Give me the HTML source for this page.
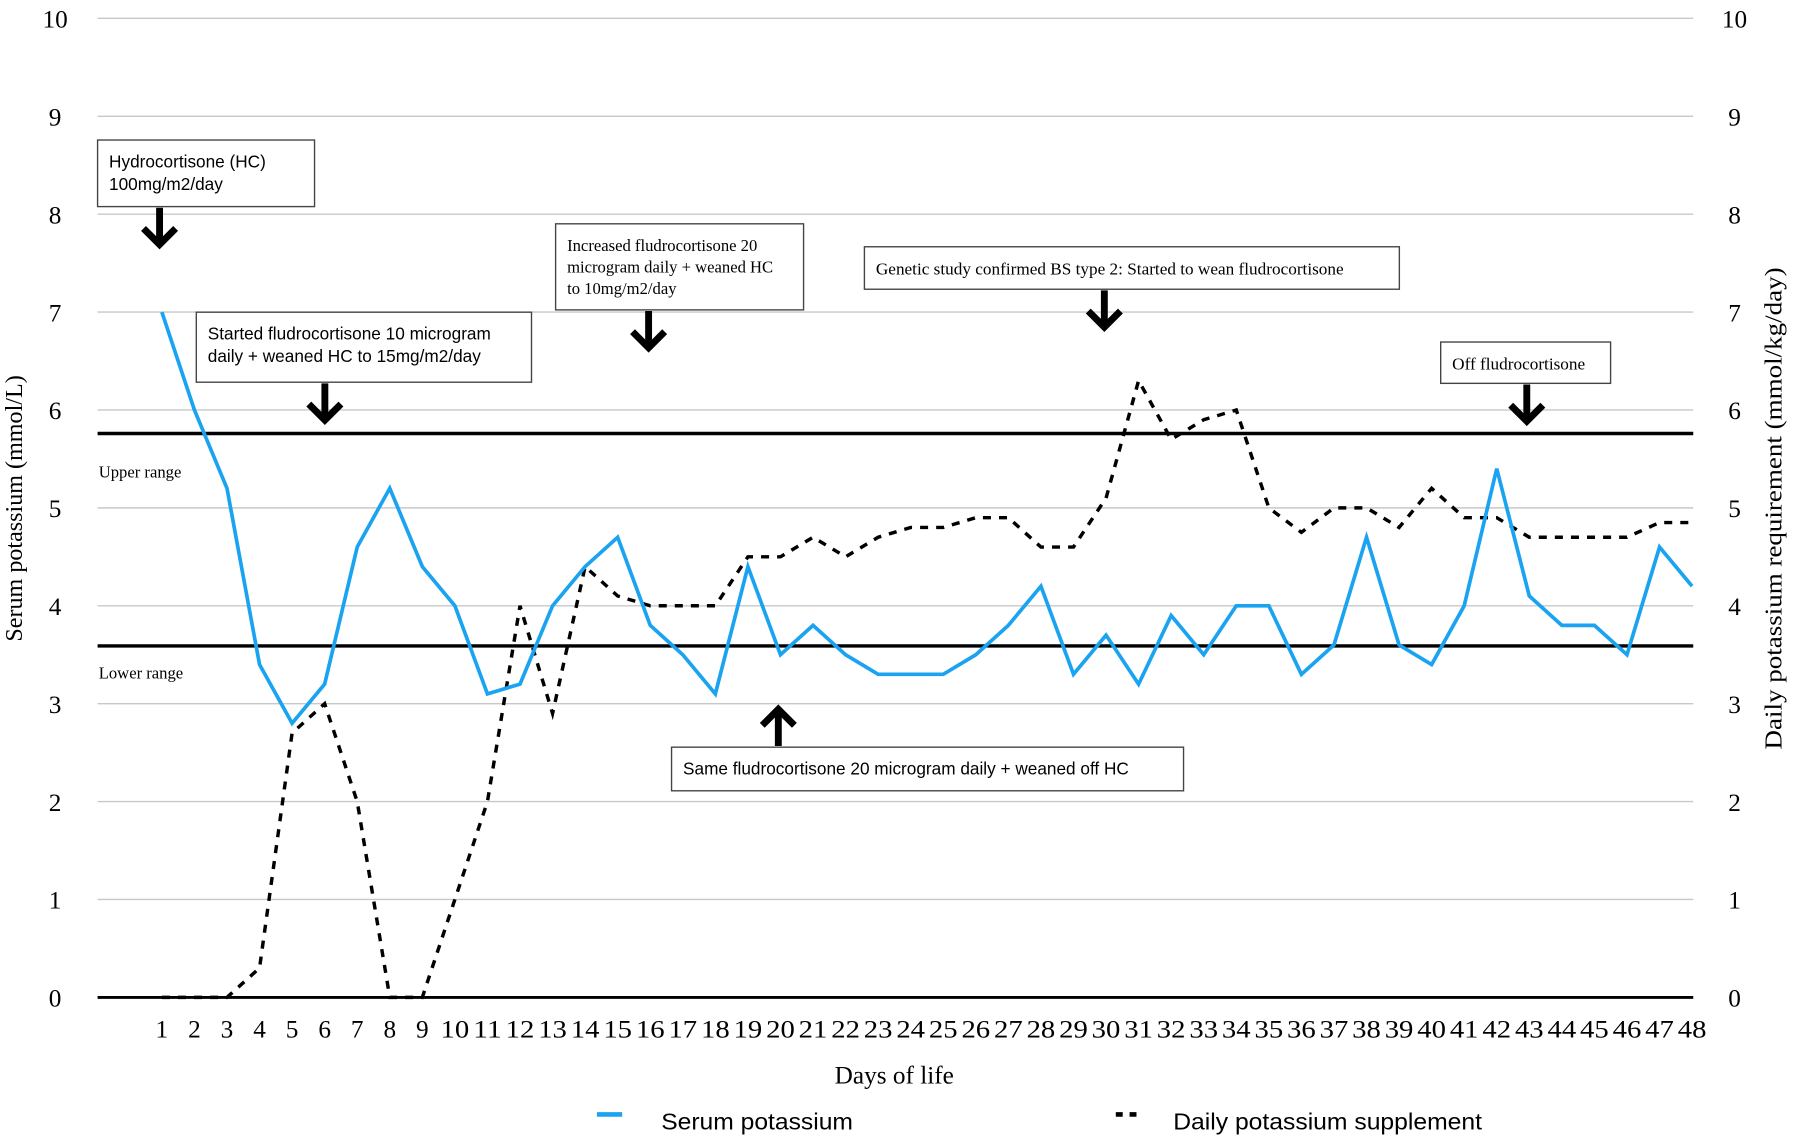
<!DOCTYPE html>
<html><head><meta charset="utf-8"><style>
html,body{margin:0;padding:0;background:#fff;width:1800px;height:1142px;overflow:hidden}
svg{display:block}
.serif{font-family:"Liberation Serif",serif}
.sans{font-family:"Liberation Sans",sans-serif}
</style></head><body>
<svg id="chart" width="1800" height="1142" viewBox="0 0 1568 995" preserveAspectRatio="none" xmlns="http://www.w3.org/2000/svg">
<g id="grid"></g>
<g id="ticks"></g>
<g id="series"></g>
<g id="notes"></g>
<text class="serif" x="19" y="443" font-size="21" text-anchor="middle" transform="rotate(-90 19 443)">Serum potassium (mmol/L)</text>
<text class="serif" x="1552" y="443" font-size="21" text-anchor="middle" transform="rotate(-90 1552 443)" textLength="420" lengthAdjust="spacingAndGlyphs">Daily potassium requirement (mmol/kg/day)</text>
<text class="serif" x="779" y="944" font-size="22" text-anchor="middle">Days of life</text>
<g><line x1="520" y1="971" x2="542" y2="971" stroke="#1aa3f0" stroke-width="4"/><text class="sans" x="576" y="984" font-size="20" textLength="167" lengthAdjust="spacingAndGlyphs">Serum potassium</text></g>
<g><line x1="972" y1="971" x2="994" y2="971" stroke="#000" stroke-width="4" stroke-dasharray="6,6"/><text class="sans" x="1022" y="984" font-size="20" textLength="269" lengthAdjust="spacingAndGlyphs">Daily potassium supplement</text></g>
<text class="serif" x="86" y="416" font-size="14.5">Upper range</text>
<text class="serif" x="86" y="591" font-size="14.5">Lower range</text>
</svg>
<script>
const days=[1,2,3,4,5,6,7,8,9,10,11,12,13,14,15,16,17,18,19,20,21,22,23,24,25,26,27,28,29,30,31,32,33,34,35,36,37,38,39,40,41,42,43,44,45,46,47,48];
const serum=[7,6,5.2,3.4,2.8,3.2,4.6,5.2,4.4,4.0,3.1,3.2,4.0,4.4,4.7,3.8,3.5,3.1,4.4,3.5,3.8,3.5,3.3,3.3,3.3,3.5,3.8,4.2,3.3,3.7,3.2,3.9,3.5,4.0,4.0,3.3,3.6,4.7,3.6,3.4,4.0,5.4,4.1,3.8,3.8,3.5,4.6,4.2];
const supplement=[0,0,0,0.3,2.7,3.0,2.0,0,0,1.0,2.0,4.0,2.9,4.4,4.1,4.0,4.0,4.0,4.5,4.5,4.7,4.5,4.7,4.8,4.8,4.9,4.9,4.6,4.6,5.1,6.3,5.7,5.9,6.0,5.0,4.75,5.0,5.0,4.8,5.2,4.9,4.9,4.7,4.7,4.7,4.7,4.85,4.85];
const yTicks=[0,1,2,3,4,5,6,7,8,9,10];
const rangeLines=[5.76,3.59];
const NS='http://www.w3.org/2000/svg';
const X=d=>141+(d-1)*(1474-141)/47;
const Y=v=>869-v*85.3;
function mk(tag,attrs,parent){const e=document.createElementNS(NS,tag);for(const k in attrs)e.setAttribute(k,attrs[k]);parent.appendChild(e);return e;}
const grid=document.getElementById('grid'),ticks=document.getElementById('ticks'),series=document.getElementById('series'),notes=document.getElementById('notes');
yTicks.forEach(v=>{
 if(v>0){const g=mk('line',{x1:85,x2:1475,y1:Y(v),y2:Y(v),stroke:'#c8c8c8','stroke-width':1.2},grid);
 
 }
 const t1=mk('text',{x:48,y:Y(v)+8,'font-size':22,'text-anchor':'middle','class':'serif'},ticks);t1.textContent=v;
 
 
 const t2=mk('text',{x:1511,y:Y(v)+8,'font-size':22,'text-anchor':'middle','class':'serif'},ticks);t2.textContent=v;
 
 
});
const ax=mk('line',{x1:85,x2:1475,y1:Y(0),y2:Y(0),stroke:'#000','stroke-width':2.5},grid);


days.forEach(d=>{const t=mk('text',{x:X(d),y:904,'font-size':22,'text-anchor':'middle','class':'serif','textLength':d>=10?25:11,'lengthAdjust':'spacingAndGlyphs'},ticks);t.textContent=d;
 
 });
rangeLines.forEach((v,i)=>{const l=mk('line',{x1:85,x2:1475,y1:Y(v),y2:Y(v),stroke:'#000','stroke-width':3},grid);
 
 });
const sp=mk('polyline',{points:days.map((d,i)=>X(d)+','+Y(supplement[i])).join(' '),fill:'none',stroke:'#000','stroke-width':3,'stroke-dasharray':'7,7'},series);


const se=mk('polyline',{points:days.map((d,i)=>X(d)+','+Y(serum[i])).join(' '),fill:'none',stroke:'#1aa3f0','stroke-width':3.2,'stroke-linejoin':'miter'},series);


function box(x,y,w,h,lines,fs,font,name){
 const g=mk('g',{},notes);
 
 
 mk('rect',{x:x,y:y,width:w,height:h,fill:'#fff',stroke:'#444','stroke-width':1.2},g);
 lines.forEach((s,i)=>{const t=mk('text',{x:x+10,y:y+fs+9+i*fs*1.3,'font-size':fs,'class':font},g);t.textContent=s;});
}
function arrow(x,y,up,name){
 const g=mk('g',{},notes);
 
 
 const d=up?-1:1;
 mk('line',{x1:x,y1:y,x2:x,y2:y+d*30,stroke:'#000','stroke-width':6},g);
 mk('polyline',{points:(x-14)+','+(y+d*18)+' '+x+','+(y+d*32)+' '+(x+14)+','+(y+d*18),fill:'none',stroke:'#000','stroke-width':6},g);
}
box(85,122,189,58,['Hydrocortisone (HC)','100mg/m2/day'],15,'sans','annotation-hc');
arrow(139,181,false,'arrow-hc');
box(171,272,292,61,['Started fludrocortisone 10 microgram','daily + weaned HC to 15mg/m2/day'],15,'sans','annotation-started-fludro');
arrow(283,334,false,'arrow-started-fludro');
box(484,195,216,75,['Increased fludrocortisone 20','microgram daily + weaned HC','to 10mg/m2/day'],14.5,'serif','annotation-increased-fludro');
arrow(565,271,false,'arrow-increased-fludro');
box(753,215,466,37,['Genetic study confirmed BS type 2: Started to wean fludrocortisone'],15,'serif','annotation-genetic');
arrow(962,253,false,'arrow-genetic');
box(1255,298,148,36,['Off fludrocortisone'],15,'serif','annotation-off-fludro');
arrow(1330,335,false,'arrow-off-fludro');
box(585,651,446,38,['Same fludrocortisone 20 microgram daily + weaned off HC'],15,'sans','annotation-same-fludro');
arrow(678,650,true,'arrow-same-fludro');
</script>
</body></html>
